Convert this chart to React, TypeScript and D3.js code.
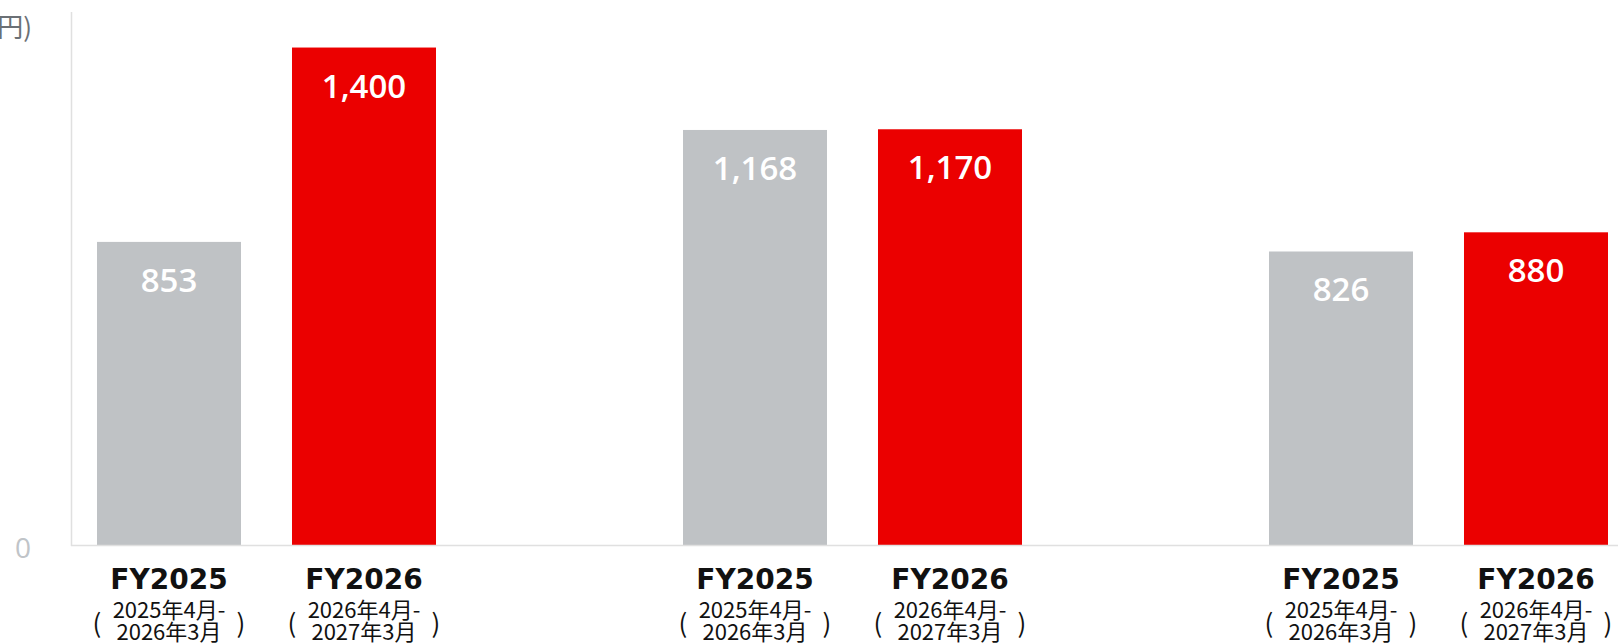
import React from "react";
import * as d3 from "d3";

const groups = ["g1", "g2", "g3"];
const series = ["FY2025", "FY2026"];
const valuesFY2025 = [853, 1168, 826];
const valuesFY2026 = [1400, 1170, 880];
const periodLine1 = ["2025年4月-", "2026年4月-"];
const periodLine2 = ["2026年3月", "2027年3月"];
const yTicks = [0];
const unitLabel = "(億円)";

const W = 1618;
const H = 644;
const colors: Record<string, string> = { FY2025: "#bfc2c5", FY2026: "#eb0000" };
const numFont = "'Open Sans', 'Noto Sans', sans-serif";
const fyFont = "'DejaVu Sans', sans-serif";
const jpFont = "'Noto Sans CJK JP', 'Noto Sans', sans-serif";

export default function App() {
  const y = d3.scaleLinear().domain([0, 1500]).range([545, 12]);
  const x0 = d3.scaleBand<string>().domain(groups).range([97, 1608]).paddingInner(0.4215).paddingOuter(0);
  const x1 = d3.scaleBand<string>().domain(series).range([0, x0.bandwidth()]).paddingInner(0.2615).paddingOuter(0);
  const fmt = d3.format(",");
  const valueOf = (s: string, i: number) => (s === "FY2025" ? valuesFY2025[i] : valuesFY2026[i]);

  return (
    <svg width={W} height={H} style={{ position: "absolute", left: 0, top: 0, background: "#fff" }}>
      <text x={32} y={37} textAnchor="end" fontSize={26} fill="#6b7075" fontFamily={jpFont}>{unitLabel}</text>
      {yTicks.map((t) => (
        <text key={t} x={23} y={y(t) + 13} textAnchor="middle" fontSize={28} fill="#c0c4c8" fontFamily={numFont}>{t}</text>
      ))}
      {groups.map((g, gi) => (
        <g key={g} transform={`translate(${x0(g)},0)`}>
          {series.map((s, si) => {
            const v = valueOf(s, gi);
            const bx = x1(s)!;
            const bw = x1.bandwidth();
            const cx = bx + bw / 2;
            return (
              <g key={s}>
                <rect x={bx} y={y(v)} width={bw} height={y(0) - y(v)} fill={colors[s]} />
                <text x={cx} y={y(v) + 50} textAnchor="middle" fontSize={33} fill="#fff" fontFamily={numFont} fontWeight={600}>{fmt(v)}</text>
                <text x={cx} y={589} textAnchor="middle" fontSize={28} fontWeight={700} fill="#111" fontFamily={fyFont}>{s}</text>
                <text x={cx} y={618} textAnchor="middle" fontSize={22} fill="#111" fontFamily={jpFont}>{periodLine1[si]}</text>
                <text x={cx} y={640} textAnchor="middle" fontSize={22} fill="#111" fontFamily={jpFont}>{periodLine2[si]}</text>
                <text x={cx - 72} y={633} textAnchor="middle" fontSize={26} fill="#111" fontFamily={jpFont}>(</text>
                <text x={cx + 72} y={633} textAnchor="middle" fontSize={26} fill="#111" fontFamily={jpFont}>)</text>
              </g>
            );
          })}
        </g>
      ))}
      <line x1={71.5} x2={71.5} y1={12} y2={546} stroke="#e0e0e0" strokeWidth={1.5} />
      <line x1={71} x2={W} y1={545.5} y2={545.5} stroke="#e0e0e0" strokeWidth={1.5} />
    </svg>
  );
}
